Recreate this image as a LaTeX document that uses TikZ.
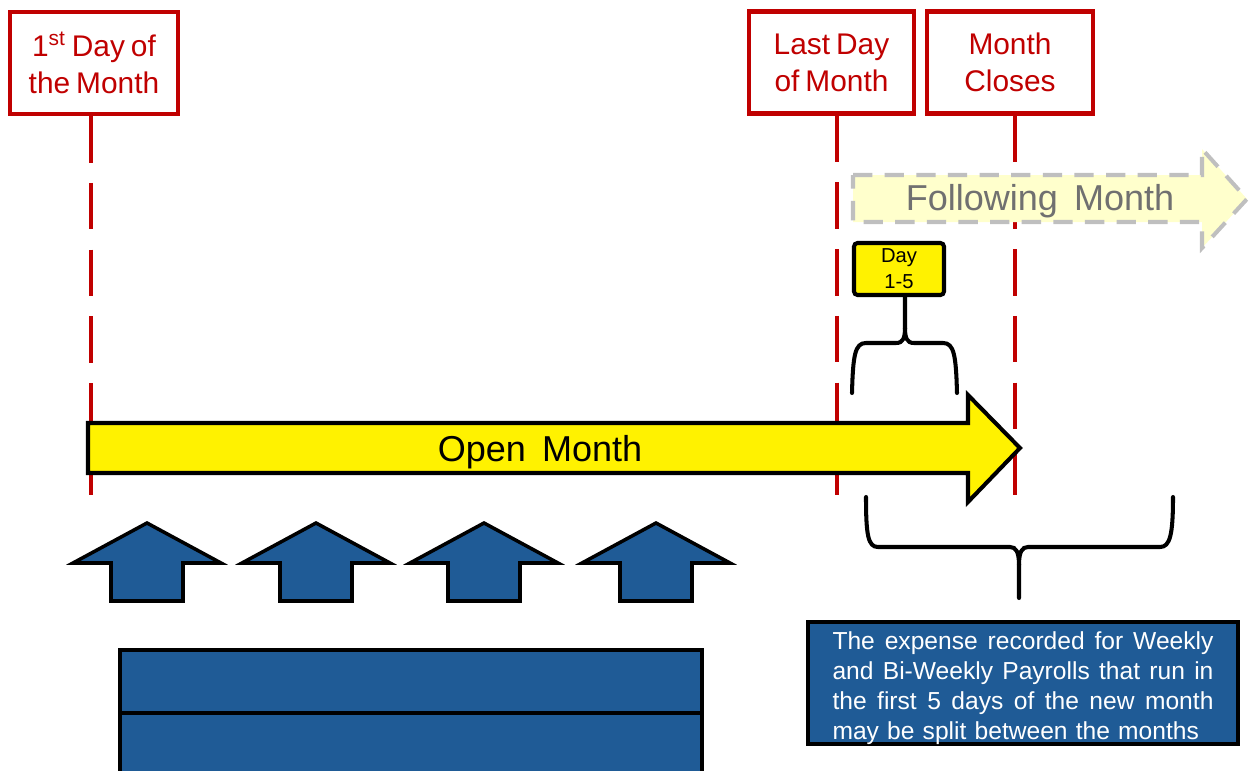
\documentclass[tikz,border=0pt]{standalone}
\usepackage{fontspec}
\setmainfont{Liberation Sans}
\usetikzlibrary{arrows.meta}
\definecolor{boxred}{RGB}{192,0,0}
\definecolor{payblue}{RGB}{31,91,150}
\definecolor{paleyellow}{RGB}{255,255,204}
\definecolor{dashgray}{RGB}{191,191,191}
\definecolor{textgray}{RGB}{112,112,112}
\newcommand{\spreadline}[1]{\makebox[7.62cm][s]{\spaceskip=0pt\xspaceskip=0pt #1}\\}

\begin{document}
\begin{tikzpicture}[x=0.02cm, y=-0.02cm, line join=miter,
        every node/.append style={align=center, inner sep=0pt}]
      \tikzstyle{datebox} = [draw=boxred, line width=2.3pt, text=boxred, font=\fontsize{17}{21}\selectfont, minimum width=3.36cm, minimum height=2.04cm,
        execute at begin node={\spaceskip=0.2em\relax}]
      \tikzstyle{dateline} = [boxred, line width=2.8pt, dash pattern=on 26.5pt off 11.5pt]
      \tikzstyle{openarrow} = [draw=black, fill=yellow, line width=2.3pt]
      \tikzstyle{nextarrow} = [draw=dashgray, fill=paleyellow, line width=2.3pt, dash pattern=on 11pt off 7pt]
      \tikzstyle{monthtext} = [font=\fontsize{20.5}{24}\selectfont, anchor=base]
      \tikzstyle{brace} = [line width=2.3pt, line cap=round]
      \tikzstyle{uparrow} = [draw=black, fill=payblue, line width=2pt]
      \useasboundingbox (0,0) rectangle (1249,771);
      \node[datebox] (first) at (94,63) {1\textsuperscript{st} Day of\\the Month};
      \node[datebox, minimum width=3.3cm] (lastday) at (831.5,62.5) {Last Day\\of Month};
      \node[datebox, minimum width=3.32cm] (closes) at (1010,62.5) {Month\\Closes};
      \coordinate (firstend) at (91,495);
      \coordinate (lastend) at (837,495);
      \coordinate (closesend) at (1015,495);
      \draw[dateline] (first.south -| firstend) -- (firstend);
      \draw[dateline] (lastday.south -| lastend) -- (lastend);
      \draw[dateline] (closes.south -| closesend) -- (closesend);
      \draw[nextarrow] (853,175) -- (1202,175) -- (1202,149) -- (1247,199) -- (1202,248) -- (1202,222) -- (853,222) -- cycle;
      \node[monthtext, text=textgray] (following) at (1040,210) {Following\hspace{0.45em}Month};
      \node[draw=black, fill=yellow, line width=2.3pt, rounded corners=2pt, minimum width=1.8cm, minimum height=1.04cm,
        font=\fontsize{11.5}{14.7}\selectfont] (day) at (899,269) {Day\\1-5};
      \coordinate (smalltip) at (905,0);
      \coordinate (paytip) at (1019,598);
      \draw[brace] (852,393) .. controls (853,355) and (855,343) .. (866,343) -- (896,343) .. controls (903,343) and (905,338) .. (905,328) -- (day.south -| smalltip);
      \draw[brace] (957,393) .. controls (956,355) and (954,343) .. (943,343) -- (914,343) .. controls (907,343) and (905,338) .. (905,328);
      \draw[openarrow] (88,423) -- (968,423) -- (968,395) -- (1020,448) -- (968,502) -- (968,473) -- (88,473) -- cycle;
      \node[monthtext] (open) at (540,461) {Open\hspace{0.45em}Month};
      \draw[brace] (866,497) .. controls (866,535) and (868,547) .. (878,547) -- (1010,547) .. controls (1016,547) and (1019,552) .. (1019,565) -- (paytip);
      \draw[brace] (1173,497) .. controls (1173,535) and (1170,547) .. (1160,547) -- (1028,547) .. controls (1022,547) and (1019,552) .. (1019,565);
      \foreach \c in {147,316,484,656}
        \draw[uparrow] (\c,523) -- ({\c+74},563) -- ({\c+36},563) -- ({\c+36},601) -- ({\c-36},601) -- ({\c-36},563) -- ({\c-74},563) -- cycle;
      \draw[uparrow] (120,650) rectangle (702,713);
      \draw[uparrow] (120,713) rectangle (702,790);
      \node[draw=black, fill=payblue, line width=2.3pt, minimum width=8.6cm, minimum height=2.44cm] (expense) at (1023,683) {};
      \node[text=white, text width=7.62cm, align=left, font=\fontsize{14}{17}\selectfont] (expensetext) at (1023,688)
        {\spreadline{The expense recorded for Weekly}\spreadline{and Bi-Weekly Payrolls that run in}\spreadline{the first 5 days of the new month}may be split between the months};
\end{tikzpicture}
\end{document}
